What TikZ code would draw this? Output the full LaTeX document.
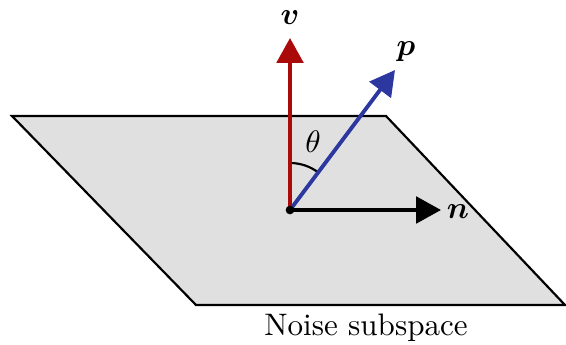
\documentclass[tikz,border=0pt]{standalone}
\usepackage{amsmath,amssymb,bm}
\usetikzlibrary{arrows.meta,positioning,calc}
\definecolor{vecred}{RGB}{170,10,10}
\definecolor{vecblue}{RGB}{45,55,160}
\definecolor{planegray}{RGB}{224,224,224}
\tikzset{
  planestyle/.style={fill=planegray,draw=black,line width=0.7pt,line join=miter},
  vecarr/.style={-{Triangle[length=8pt,width=8.5pt]},line width=1.25pt},
  redarr/.style={vecarr,color=vecred},
  bluearr/.style={vecarr,color=vecblue},
  blackarr/.style={vecarr,color=black},
  veclabel/.style={inner sep=1pt,font=\normalsize}
}

\begin{document}
\begin{tikzpicture}[x=0.0113cm,y=-0.0113cm]
  \useasboundingbox (0,0) rectangle (566,345);
  % noise plane
  \draw[planestyle] (12,116) -- (386,116) -- (565,305) -- (196,305) -- cycle;
  \coordinate (o) at (290,210);
  \coordinate (vtip) at (290,38);
  \coordinate (ptip) at (395,70);
  \coordinate (ntip) at (441,210);
  % angle
  \draw[line width=0.7pt] ($(o)+(0,-47)$) arc[start angle=-90,end angle=-53.1,radius=47];
  \node[veclabel] (theta) at (313,142) {$\theta$};
  % vectors
  \draw[redarr] (o) -- (vtip);
  \draw[bluearr] (o) -- (ptip);
  \draw[blackarr] (o) -- (ntip);
  \fill (o) circle (1.4pt);
  \node[veclabel] (vlab) at (290,18) {$\bm{v}$};
  \node[veclabel] (plab) at (406,52) {$\bm{p}$};
  \node[veclabel] (nlab) at (458,212) {$\bm{n}$};
  \node[veclabel] (noise) at (366,328) {Noise subspace};
\end{tikzpicture}
\end{document}
